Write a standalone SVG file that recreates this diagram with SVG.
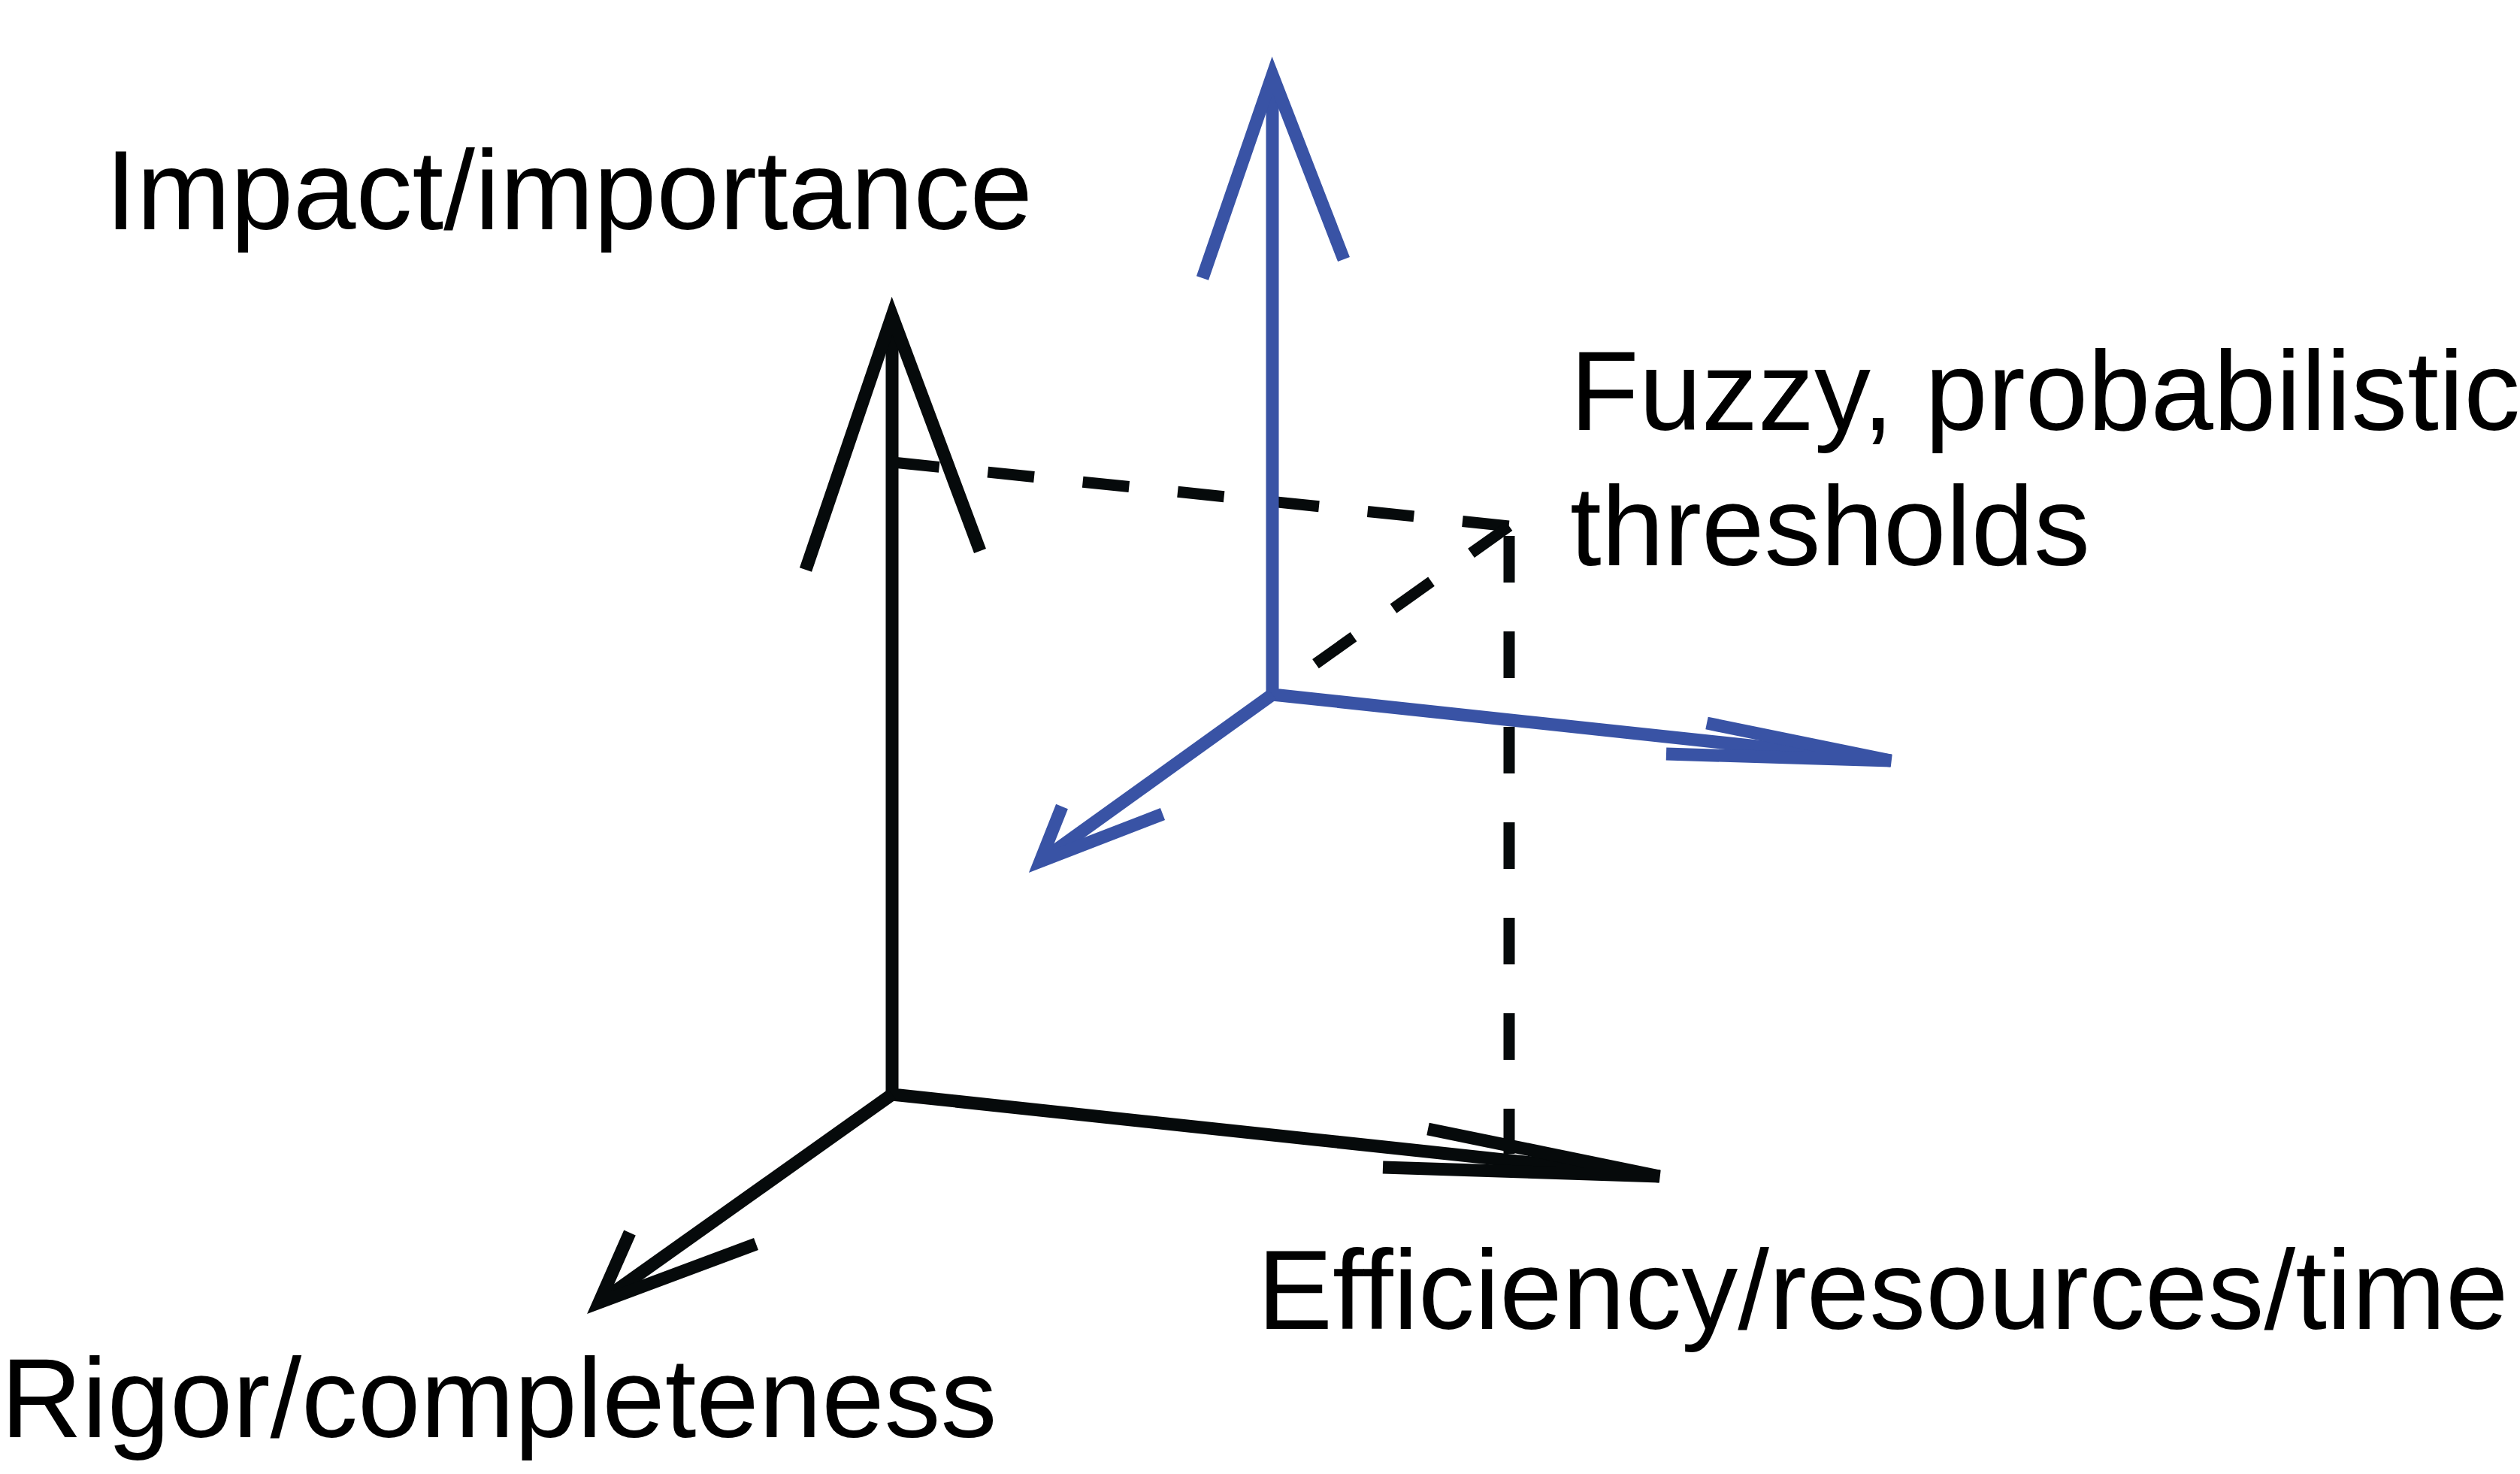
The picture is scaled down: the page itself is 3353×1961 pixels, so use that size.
<svg xmlns="http://www.w3.org/2000/svg" width="3353" height="1961" viewBox="0 0 3353 1961">
<style>
.lbl{font-family:"Liberation Sans",Arial,sans-serif;font-size:150px;fill:#000}
.ax{fill:none;stroke-width:17;stroke-linejoin:miter;stroke-miterlimit:12;stroke-linecap:butt}
.flat{stroke-linejoin:bevel}
.blk{stroke:#060a0b}
.blu{stroke:#3953a5}
.dash{fill:none;stroke:#060a0b;stroke-width:15;stroke-dasharray:62 65}
</style>
<rect width="3353" height="1961" fill="#fff"/>
<g id="connectors">
<g id="dashed">
<path class="dash" d="M1188,615 L2008,700"/>
<path class="dash" d="M2008,700 L1693,924"/>
<path class="dash" d="M2008,713 L2008,1535"/>
</g>
<g id="black-axes">
<path class="ax blk" d="M1187,420 L1187,1456 L2208,1565"/>
<path class="ax blk" d="M1187,1456 L797,1733"/>
<polyline class="ax blk" points="1072,758 1187,420 1304,733"/>
<polyline class="ax blk flat" points="1900,1502 2208,1565 1840,1553"/>
<polyline class="ax blk" points="838,1640 797,1733 1006,1655"/>
</g>
<g id="blue-axes">
<path class="ax blu" d="M1693,100 L1693,924 L2516,1012"/>
<path class="ax blu" d="M1693,924 L1384,1146"/>
<polyline class="ax blu" points="1600,370 1693,100 1788,345"/>
<polyline class="ax blu flat" points="2271,962 2516,1012 2217,1003"/>
<polyline class="ax blu" points="1413,1073 1384,1146 1547,1083"/>
</g>
</g>
<g id="label-impact"><text class="lbl" x="140" y="305">Impact/importance</text></g>
<g id="label-fuzzy"><text class="lbl" x="2089" y="572">Fuzzy, probabilistic</text><text class="lbl" x="2089" y="752">thresholds</text></g>
<g id="label-efficiency"><text class="lbl" x="1673" y="1768">Efficiency/resources/time</text></g>
<g id="label-rigor"><text class="lbl" x="1" y="1912">Rigor/completeness</text></g>
</svg>
